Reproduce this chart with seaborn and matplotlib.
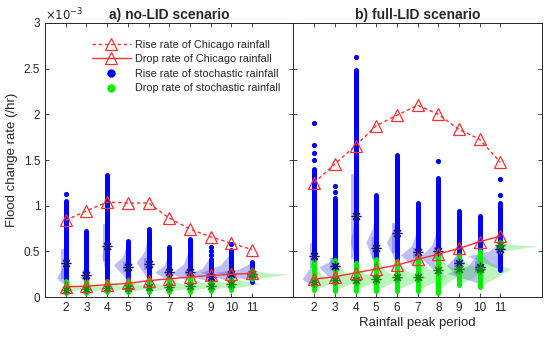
import matplotlib
matplotlib.use("Agg")
import matplotlib.pyplot as plt
import seaborn as sns
from matplotlib.lines import Line2D
from matplotlib.patches import Rectangle
from matplotlib.ticker import FuncFormatter, MultipleLocator

periods = [2, 3, 4, 5, 6, 7, 8, 9, 10, 11]

# ---- a) no-LID scenario (values in 1e-3 /hr) ----
a_chicago_rise = [0.84, 0.945, 1.04, 1.03, 1.03, 0.865, 0.745, 0.66, 0.59, 0.52]
a_chicago_drop = [0.113, 0.12, 0.135, 0.15, 0.18, 0.2, 0.22, 0.237, 0.25, 0.26]
a_rise_lo = [0.12, 0.12, 0.12, 0.12, 0.12, 0.12, 0.12, 0.12, 0.12, 0.17]
a_rise_hi = [1.05, 0.72, 1.34, 0.61, 0.74, 0.55, 0.64, 0.42, 0.52, 0.38]
a_rise_out = [[1.13], [], [], [], [], [], [], [0.46, 0.51, 0.55], [0.58], []]
a_rise_mean = [0.37, 0.24, 0.56, 0.325, 0.36, 0.28, 0.28, 0.22, 0.25, 0.25]
a_rise_q1 = [0.2, 0.2, 0.4, 0.28, 0.3, 0.24, 0.24, 0.2, 0.22, 0.22]
a_rise_q3 = [0.53, 0.3, 0.8, 0.38, 0.43, 0.3, 0.3, 0.26, 0.28, 0.28]
a_drop_lo = [0.05, 0.05, 0.06, 0.06, 0.06, 0.06, 0.06, 0.07, 0.08, 0.2]
a_drop_hi = [0.18, 0.18, 0.18, 0.19, 0.19, 0.2, 0.22, 0.22, 0.24, 0.3]
a_drop_mean = [0.08, 0.09, 0.1, 0.1, 0.11, 0.11, 0.12, 0.12, 0.14, 0.25]
# density outlines: low end, peak, high end, peak width (in periods)
a_rise_vlo = [0.12, 0.13, 0.15, 0.18, 0.18, 0.18, 0.17, 0.17, 0.17, 0.18]
a_rise_vpk = [0.21, 0.22, 0.45, 0.35, 0.38, 0.27, 0.26, 0.24, 0.27, 0.27]
a_rise_vhi = [0.55, 0.4, 1.0, 0.62, 0.72, 0.5, 0.55, 0.45, 0.5, 0.38]
a_rise_vw = [0.45, 0.3, 0.25, 0.7, 0.6, 0.7, 0.9, 1.2, 1.5, 1.8]
a_drop_vlo = [0.06, 0.06, 0.06, 0.06, 0.06, 0.06, 0.07, 0.08, 0.09, 0.2]
a_drop_vpk = [0.1, 0.1, 0.11, 0.11, 0.11, 0.12, 0.13, 0.14, 0.15, 0.25]
a_drop_vhi = [0.18, 0.18, 0.19, 0.2, 0.2, 0.21, 0.22, 0.22, 0.24, 0.3]
a_drop_vw = [1.2, 1.3, 1.3, 1.4, 1.4, 1.5, 1.5, 1.5, 1.4, 1.8]

# ---- b) full-LID scenario ----
b_chicago_rise = [1.25, 1.457, 1.657, 1.876, 1.99, 2.1, 2.0, 1.835, 1.727, 1.475]
b_chicago_drop = [0.197, 0.222, 0.266, 0.307, 0.35, 0.413, 0.47, 0.533, 0.606, 0.668]
b_rise_lo = [0.1, 0.1, 0.1, 0.1, 0.1, 0.1, 0.15, 0.16, 0.14, 0.3]
b_rise_hi = [1.4, 1.08, 2.48, 1.12, 1.55, 1.03, 1.3, 0.94, 0.89, 1.03]
b_rise_out = [[1.5, 1.58, 1.66, 1.9], [1.15, 1.22], [2.63], [], [], [], [1.49], [], [], [1.12, 1.29]]
b_rise_mean = [0.45, 0.34, 0.89, 0.54, 0.7, 0.49, 0.5, 0.37, 0.33, 0.53]
b_rise_q1 = [0.32, 0.3, 0.42, 0.42, 0.48, 0.43, 0.42, 0.3, 0.28, 0.48]
b_rise_q3 = [0.59, 0.43, 1.35, 0.66, 0.81, 0.54, 0.55, 0.43, 0.4, 0.57]
b_drop_lo = [0.08, 0.07, 0.07, 0.07, 0.07, 0.07, 0.05, 0.13, 0.11, 0.5]
b_drop_hi = [0.39, 0.41, 0.37, 0.42, 0.4, 0.46, 0.49, 0.46, 0.5, 0.6]
b_drop_mean = [0.17, 0.19, 0.19, 0.2, 0.22, 0.22, 0.3, 0.31, 0.31, 0.57]
b_rise_vlo = [0.1, 0.15, 0.4, 0.3, 0.35, 0.3, 0.25, 0.2, 0.15, 0.3]
b_rise_vpk = [0.2, 0.33, 0.6, 0.6, 0.6, 0.46, 0.44, 0.35, 0.26, 0.45]
b_rise_vhi = [0.55, 0.5, 1.2, 1.05, 1.0, 0.75, 0.8, 0.6, 0.5, 0.6]
b_rise_vw = [0.58, 0.77, 0.25, 0.5, 0.5, 0.83, 0.9, 0.6, 1.6, 1.6]
b_drop_vlo = [0.08, 0.08, 0.08, 0.08, 0.08, 0.08, 0.08, 0.13, 0.11, 0.5]
b_drop_vpk = [0.17, 0.2, 0.2, 0.21, 0.22, 0.23, 0.28, 0.3, 0.31, 0.56]
b_drop_vhi = [0.38, 0.4, 0.37, 0.42, 0.4, 0.46, 0.49, 0.46, 0.5, 0.6]
b_drop_vw = [1.0, 1.4, 1.3, 1.3, 1.4, 1.4, 1.2, 1.3, 1.5, 1.8]

titles = ["a) no-LID scenario", "b) full-LID scenario"]

sns.set_style("ticks")
plt.rcParams["font.family"] = ["Liberation Sans", "DejaVu Sans"]
plt.rcParams["xtick.direction"] = "in"
plt.rcParams["ytick.direction"] = "in"

BLUE = "#0000ff"
GREEN = "#00ee00"
RED = "#ff3030"
ASTER = (8, 2, 0)


def half_violin(ax, k, lo, pk, hi, w, side, color):
    # simple density outline: widest at the peak, tapering to both ends
    mid = pk + 0.35 * (hi - pk)
    ys = [lo, pk, mid, hi]
    ws = [0, w, 0.35 * w, 0]
    xs = [k + side * v for v in ws]
    ax.fill_betweenx(ys, [k] * 4, xs, color=color, alpha=0.3, lw=0, zorder=1)


fig, axes = plt.subplots(1, 2, figsize=(5.5, 3.38), dpi=100, sharey=True)
fig.subplots_adjust(left=0.082, right=0.985, bottom=0.121, top=0.932, wspace=0)

panels = [
    (a_chicago_rise, a_chicago_drop, a_rise_lo, a_rise_hi, a_rise_out, a_rise_mean,
     a_rise_q1, a_rise_q3, a_drop_lo, a_drop_hi, a_drop_mean,
     a_rise_vlo, a_rise_vpk, a_rise_vhi, a_rise_vw,
     a_drop_vlo, a_drop_vpk, a_drop_vhi, a_drop_vw),
    (b_chicago_rise, b_chicago_drop, b_rise_lo, b_rise_hi, b_rise_out, b_rise_mean,
     b_rise_q1, b_rise_q3, b_drop_lo, b_drop_hi, b_drop_mean,
     b_rise_vlo, b_rise_vpk, b_rise_vhi, b_rise_vw,
     b_drop_vlo, b_drop_vpk, b_drop_vhi, b_drop_vw),
]

for i, (ax, p) in enumerate(zip(axes, panels)):
    (c_rise, c_drop, r_lo, r_hi, r_out, r_mean, r_q1, r_q3, d_lo, d_hi, d_mean,
     rvlo, rvpk, rvhi, rvw, dvlo, dvpk, dvhi, dvw) = p

    # density shapes: rise to the left, drop to the right
    for k, lo, pk, hi, w in zip(periods, rvlo, rvpk, rvhi, rvw):
        half_violin(ax, k, lo, pk, hi, w, -1, "#2a2ae0")
    for k, lo, pk, hi, w in zip(periods, dvlo, dvpk, dvhi, dvw):
        half_violin(ax, k, lo, pk, hi, w, 1, "#20e020")
    # interquartile boxes
    for k, q1, q3 in zip(periods, r_q1, r_q3):
        ax.add_patch(Rectangle((k - 0.22, q1), 0.22, q3 - q1,
                               color="#2a2ae0", alpha=0.3, lw=0, zorder=2))

    # stochastic rainfall samples
    ax.vlines(periods, r_lo, r_hi, color=BLUE, lw=3.6, capstyle="round", zorder=3)
    ox = [k for k, o in zip(periods, r_out) for _ in o]
    oy = [v for o in r_out for v in o]
    ax.scatter(ox, oy, s=14, color=BLUE, lw=0, zorder=3)
    ax.vlines(periods, d_lo, d_hi, color=GREEN, lw=3.6, capstyle="round", zorder=4)

    # means
    ax.plot(periods, r_mean, ls="none", marker=ASTER, ms=7, mew=0.9,
            color="#14148c", zorder=5)
    ax.plot(periods, d_mean, ls="none", marker=ASTER, ms=7, mew=0.9,
            color="#0c8c0c", zorder=5)

    # Chicago design rainfall
    sns.lineplot(x=periods, y=c_rise, ax=ax, color=RED, lw=1.0, ls=(0, (2.5, 2)),
                 marker="^", ms=8, mfc="none", mec=RED, mew=0.9, zorder=6)
    sns.lineplot(x=periods, y=c_drop, ax=ax, color=RED, lw=1.0, ls="-",
                 marker="^", ms=8, mfc="none", mec=RED, mew=0.9, zorder=6)

    ax.set_xlim(1, 13)
    ax.set_ylim(0, 3)
    ax.set_xticks(periods)
    ax.yaxis.set_major_locator(MultipleLocator(0.5))
    ax.yaxis.set_major_formatter(FuncFormatter(lambda v, _: f"{v:g}"))
    ax.tick_params(top=True, right=True, labelsize=8.5, length=3, width=0.6,
                   colors="#262626")
    for s in ax.spines.values():
        s.set_color("#262626")
        s.set_linewidth(0.7)
    ax.set_title(titles[i], fontsize=10, fontweight="bold", pad=3)

axes[1].tick_params(labelleft=False)
axes[0].set_ylabel("Flood change rate (/hr)", fontsize=9.5, labelpad=4)
axes[1].set_xlabel("Rainfall peak period", fontsize=9.5, labelpad=2)
axes[0].text(0.0, 1.0, r"$\times10^{-3}$", transform=axes[0].transAxes,
             ha="left", va="bottom", fontsize=8.5, color="#262626")

handles = [
    Line2D([], [], color=RED, lw=1.0, ls=(0, (2.5, 2)), marker="^", ms=8, mfc="none", mew=0.9),
    Line2D([], [], color=RED, lw=1.0, ls="-", marker="^", ms=8, mfc="none", mew=0.9),
    Line2D([], [], ls="none", marker="o", ms=5, color=BLUE),
    Line2D([], [], ls="none", marker="o", ms=5, color=GREEN),
]
labels = ["Rise rate of Chicago rainfall", "Drop rate of Chicago rainfall",
          "Rise rate of stochastic rainfall", "Drop rate of stochastic rainfall"]
axes[0].legend(handles, labels, loc="upper left", bbox_to_anchor=(0.17, 0.955),
               frameon=False, fontsize=7.8, handlelength=3.6, handletextpad=0.4,
               labelspacing=0.42, borderaxespad=0)

fig.savefig("out.png", dpi=100)
